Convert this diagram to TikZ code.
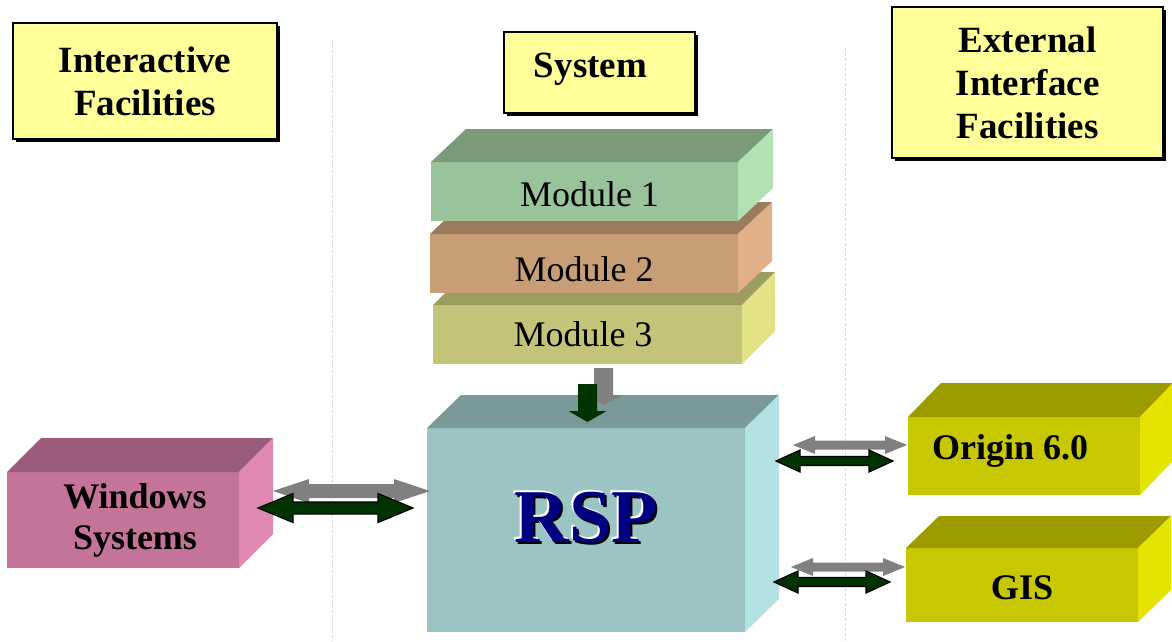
\documentclass[tikz,border=0pt]{standalone}
\usepackage{fontspec}
\setmainfont{Liberation Serif}
\usetikzlibrary{calc,shadows}
\definecolor{hdr}{HTML}{FFFF99}
\definecolor{m1f}{HTML}{99C49B}\definecolor{m1t}{HTML}{7A9A7A}\definecolor{m1s}{HTML}{B2E2B4}
\definecolor{m2f}{HTML}{C89E76}\definecolor{m2t}{HTML}{9C7A5C}\definecolor{m2s}{HTML}{E2B088}
\definecolor{m3f}{HTML}{C4C478}\definecolor{m3t}{HTML}{9C9C5E}\definecolor{m3s}{HTML}{E2E284}
\definecolor{rsf}{HTML}{9CC4C4}\definecolor{rst}{HTML}{7A9A9A}\definecolor{rss}{HTML}{B4E2E2}
\definecolor{wsf}{HTML}{C47498}\definecolor{wst}{HTML}{9A5C7A}\definecolor{wss}{HTML}{E088B4}
\definecolor{exf}{HTML}{C8C800}\definecolor{ext}{HTML}{9C9C00}\definecolor{exs}{HTML}{E4E400}
\definecolor{darkgr}{HTML}{003300}
\definecolor{navyc}{HTML}{000080}
\newcommand\hdrfont{\bfseries\fontsize{37}{43}\selectfont}
\newcommand\modfont{\fontsize{36}{43}\selectfont}
\newcommand\boxfont{\bfseries\fontsize{36}{41}\selectfont}
\newcommand\shiftv[2]{\raisebox{#1}[\height][\depth]{#2}}
\newcommand\boxfaces[5]{%
  \fill[#4] (#1.north west) -- ++(#2,-#3) -- ($(#1.north east)+(#2,-#3)$) -- (#1.north east) -- cycle;
  \fill[#5] (#1.north east) -- ++(#2,-#3) -- ($(#1.south east)+(#2,-#3)$) -- (#1.south east) -- cycle;}
% horizontal double block arrow: style, left tip, right tip, half shaft, half head, head length
\newcommand\dblarrow[6]{%
  \filldraw[#1] (#2) -- ($(#2)+(#6,-#5)$) -- ($(#2)+(#6,-#4)$) -- ($(#3)+(-#6,-#4)$) -- ($(#3)+(-#6,-#5)$)
   -- (#3) -- ($(#3)+(-#6,#5)$) -- ($(#3)+(-#6,#4)$) -- ($(#2)+(#6,#4)$) -- ($(#2)+(#6,#5)$) -- cycle;}
% downward block arrow: style, tail, tip, half shaft, half head, head length
\newcommand\dnarrow[6]{%
  \filldraw[#1] ($(#2)+(-#4,0)$) -- ($(#2)+(#4,0)$) -- ($(#3)+(#4,-#6)$) -- ($(#3)+(#5,-#6)$) -- (#3)
   -- ($(#3)+(-#5,-#6)$) -- ($(#3)+(-#4,-#6)$) -- cycle;}
\begin{document}
\begin{tikzpicture}[x=1pt,y=-1pt,
  hdrbox/.style={draw=black, line width=1.2pt, fill=hdr, inner sep=0pt, outer sep=0pt, align=center, font=\hdrfont,
    general shadow={fill=black, shadow xshift=2.5pt, shadow yshift=-2.5pt}},
  face/.style={inner sep=0pt, outer sep=0pt, align=center},
  guide/.style={draw=black!15, line width=0.8pt, dash pattern=on 3pt off 2pt},
  grayarr/.style={fill=black!50, draw=none},
  greenarr/.style={fill=darkgr, draw=black, line width=1.2pt, line join=miter},
  greendn/.style={fill=darkgr, draw=none}]
\useasboundingbox (0,0) rectangle (1172,641);
% guide lines
\draw[guide] (332,40) -- (332,641);
\draw[guide] (845,48) -- (845,641);
% headers
\node[hdrbox, minimum width=264pt, minimum height=116pt] (hint) at (145,81) {Interactive\\Facilities};
\node[hdrbox, minimum width=191pt, minimum height=81pt] (hsys) at (599.5,72.5) {\hspace*{-18pt}\shiftv{3pt}{System}};
\node[hdrbox, minimum width=271pt, minimum height=151pt] (hext) at (1027.5,82.5) {External\\Interface\\Facilities};
% modules
\node[face, fill=m3f, minimum width=309pt, minimum height=59pt, font=\modfont] (m3) at (587.5,334.5) {\hspace*{-9pt}Module 3};
\boxfaces{m3}{33}{33}{m3t}{m3s}
\node[face, fill=m2f, minimum width=308pt, minimum height=59pt, font=\modfont] (m2) at (584,263.5) {\shiftv{-6pt}{Module 2}};
\boxfaces{m2}{34}{32}{m2t}{m2s}
\node[face, fill=m1f, minimum width=307pt, minimum height=59pt, font=\modfont] (m1) at (584.5,191.5) {\hspace*{10pt}\shiftv{-3pt}{Module 1}};
\boxfaces{m1}{35}{33}{m1t}{m1s}
% RSP
\node[face, fill=rsf, minimum width=318pt, minimum height=204pt, font=\bfseries\fontsize{76}{80}\selectfont] (rsp) at (586,530)
  {\shiftv{12pt}{\rlap{\hspace{2.5pt}\raisebox{-2.5pt}{\color{black}RSP}}\rlap{\hspace{-1.5pt}\raisebox{1.5pt}{\color{white}RSP}}\color{navyc}RSP}};
\boxfaces{rsp}{34}{33}{rst}{rss}
% Windows
\node[face, fill=wsf, minimum width=232pt, minimum height=96pt, font=\boxfont] (ws) at (123,520)
  {\shiftv{-1pt}{\begin{tabular}{@{\hspace{24pt}}c@{}}Windows\\Systems\end{tabular}}};
\boxfaces{ws}{34}{34}{wst}{wss}
% Origin and GIS
\node[face, fill=exf, minimum width=232pt, minimum height=78pt, font=\boxfont] (og) at (1024,456)
  {\shiftv{5pt}{\begin{tabular}{@{}c@{\hspace{28pt}}}Origin 6.0\end{tabular}}};
\boxfaces{og}{33}{34}{ext}{exs}
\node[face, fill=exf, minimum width=232pt, minimum height=74pt, font=\boxfont] (gis) at (1022,585) {\shiftv{-3pt}{GIS}};
\boxfaces{gis}{33}{32}{ext}{exs}
% arrow end points
\coordinate (dgA) at (603.5,368); \coordinate (dgB) at (603.5,405);
\coordinate (dkA) at (587.5,384); \coordinate (dkB) at (587.5,422);
\coordinate (wgA) at (273,491); \coordinate (wgB) at (430,491);
\coordinate (wkA) at (258,508); \coordinate (wkB) at (413,508);
\coordinate (ogA) at (793,445); \coordinate (ogB) at (907,445);
\coordinate (okA) at (776,461); \coordinate (okB) at (893,461);
\coordinate (ggA) at (791,567); \coordinate (ggB) at (905,567);
\coordinate (gkA) at (774,582); \coordinate (gkB) at (890,582);
% modules -> RSP
\dnarrow{grayarr}{dgA}{dgB}{9.5}{19.5}{10}
\dnarrow{greendn}{dkA}{dkB}{9.5}{19}{11}
% Windows <-> RSP
\dblarrow{grayarr}{wgA}{wgB}{7}{12}{36}
\dblarrow{greenarr}{wkA}{wkB}{6}{14.5}{35}
% RSP <-> Origin
\dblarrow{grayarr}{ogA}{ogB}{4.5}{9}{22}
\dblarrow{greenarr}{okA}{okB}{4.5}{11}{24}
% RSP <-> GIS
\dblarrow{grayarr}{ggA}{ggB}{4.5}{9}{22}
\dblarrow{greenarr}{gkA}{gkB}{4.5}{11}{24}
\end{tikzpicture}
\end{document}
